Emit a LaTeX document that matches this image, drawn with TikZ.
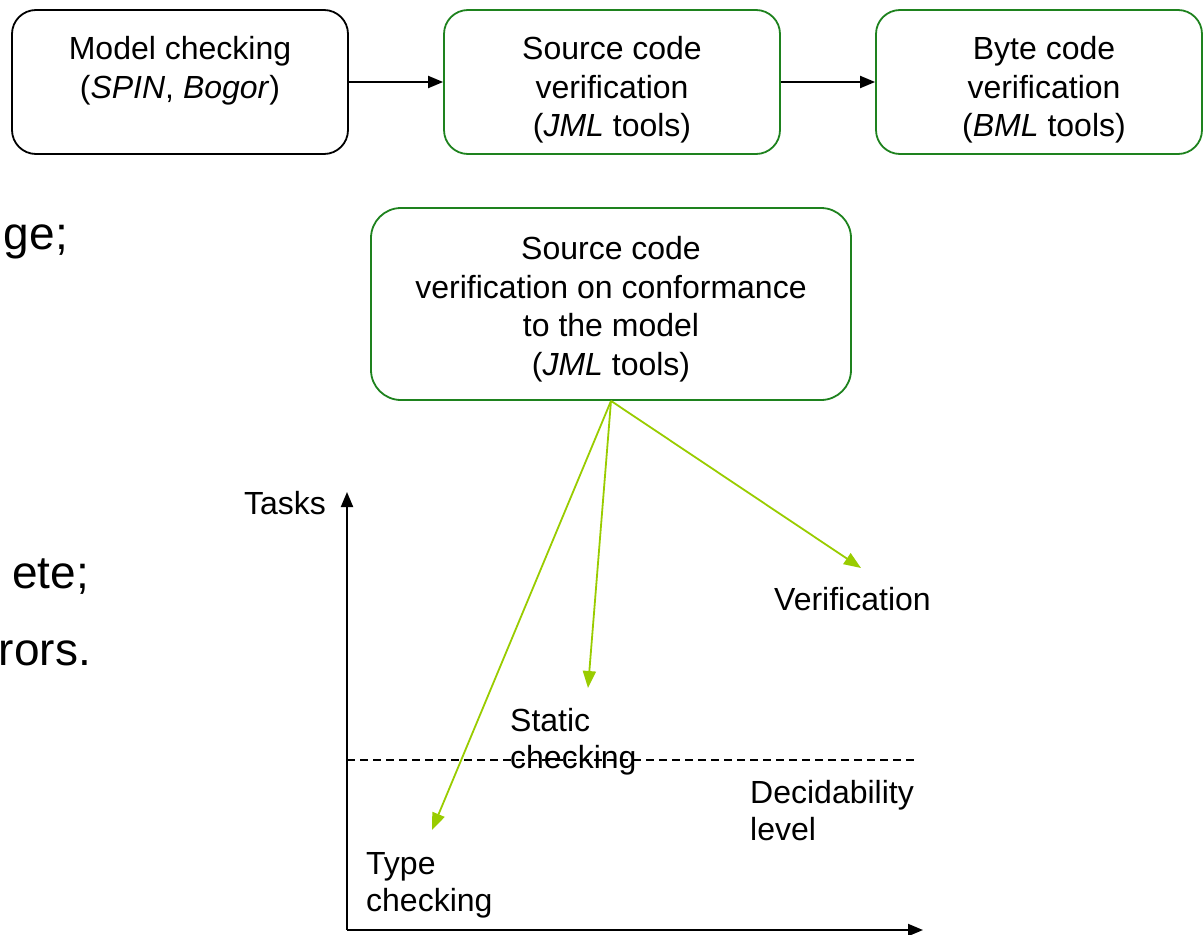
\documentclass[tikz,border=0pt]{standalone}
\usepackage{fontspec}
\setmainfont{Liberation Sans}
\usetikzlibrary{arrows.meta}
\definecolor{boxgreen}{RGB}{30,130,30}
\definecolor{arrgreen}{RGB}{153,204,0}
\begin{document}
\begin{tikzpicture}[x=1pt,y=1pt,
  box/.style={draw, line width=1.8pt, rounded corners=24pt, inner sep=0pt},
  gbox/.style={box, draw=boxgreen},
  txt/.style={font=\fontsize{32}{38.5}\selectfont, align=center, inner sep=0pt},
  ltxt/.style={font=\fontsize{32}{37}\selectfont, align=left, inner sep=0pt},
  big/.style={font=\fontsize{46}{52}\selectfont, inner sep=0pt},
  blk/.style={line width=2pt, -{Triangle[length=15pt,width=12pt]}},
  grn/.style={draw=arrgreen, line width=1.8pt, -{Triangle[length=17pt,width=13pt]}, arrgreen}]
\useasboundingbox (0,0) rectangle (1204,-934);

% top row boxes
\node[box, minimum width=336pt, minimum height=144pt] (mc) at (180,-82) {};
\node[gbox, minimum width=336pt, minimum height=144pt] (sc) at (612,-82) {};
\node[gbox, minimum width=326pt, minimum height=144pt] (bc) at (1039,-82) {};
\node[txt, anchor=north] (mct) at (180,-36.5) {Model checking\\(\textit{SPIN}, \textit{Bogor})};
\node[txt, anchor=north] (sct) at (612,-36.5) {Source code\\verification\\ (\textit{JML} tools)};
\node[txt, anchor=north] (bct) at (1044,-36.5) {Byte code\\verification\\(\textit{BML} tools)};
\draw[blk] (mc.east) -- (sc.west);
\draw[blk] (sc.east) -- (bc.west);

% conformance box
\node[gbox, rounded corners=30pt, minimum width=480pt, minimum height=192pt] (cf) at (611,-304) {};
\node[txt, anchor=north] (cft) at (611,-236.5) {Source code\\verification on conformance\\to the model\\(\textit{JML} tools)};

% left fragments
\node[big, anchor=base east] (f1) at (68,-249) {ge;};
\node[big, anchor=base east] (f2) at (89,-588) {ete;};
\node[big, anchor=base east] (f3) at (91,-665) {rors.};

% axes
\coordinate (O) at (347,-930);
\coordinate (ytip) at (347,-492);
\coordinate (xtip) at (923,-930);
\draw[blk] (O) -- (ytip);
\draw[blk] (O) -- (xtip);
\node[ltxt, anchor=base east] (tasks) at (326,-514) {Tasks};

% labels
\node[ltxt, anchor=base west] (ver) at (774,-610) {Verification};
\node[ltxt, anchor=north west] (stat) at (510,-708) {Static\\checking};
\node[ltxt, anchor=north west] (dec) at (750,-780) {Decidability\\level};
\node[ltxt, anchor=north west] (type) at (366,-852) {Type\\checking};

% decidability line
\coordinate (d1) at (347,-760);
\coordinate (d2) at (918,-760);
\draw[line width=1.8pt, dash pattern=on 8pt off 5pt] (d1) -- (d2);

% green arrows
\coordinate (tce) at (432,-830);
\coordinate (sce) at (588,-688);
\coordinate (vee) at (861,-568);
\draw[grn] (cf.south) -- (tce);
\draw[grn] (cf.south) -- (sce);
\draw[grn] (cf.south) -- (vee);
\end{tikzpicture}
\end{document}
